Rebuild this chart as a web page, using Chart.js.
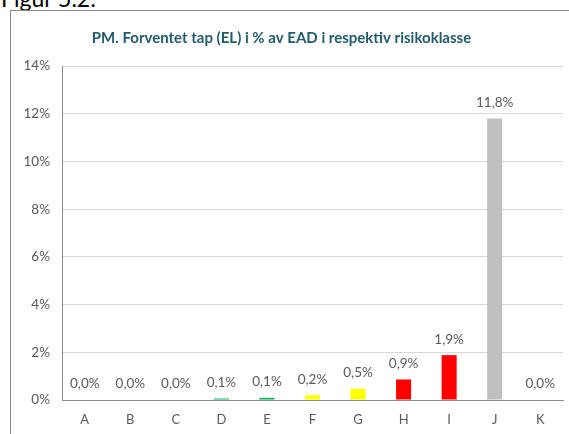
<!DOCTYPE html>
<html><head><meta charset="utf-8">
<script src="https://cdn.jsdelivr.net/npm/chart.js@4/dist/chart.umd.min.js"></script>
<style>
html,body{margin:0;padding:0;background:#fff;overflow:hidden;}
#wrap{position:relative;width:569px;height:434px;}
#fig{position:absolute;left:1px;top:-16px;font:23px Lato,"Open Sans",sans-serif;color:#000;}
#frame{position:absolute;left:10px;top:10px;width:620px;height:500px;border:1.5px solid #898989;box-sizing:border-box;}
canvas{position:absolute;left:0;top:0;}
</style></head>
<body><div id="wrap">
<div id="fig">Figur 5.2:</div>
<div id="frame"></div>
<canvas id="c" width="569" height="434"></canvas>
</div>
<script>
const categories = ["A","B","C","D","E","F","G","H","I","J","K"];
const values = [0.0, 0.0, 0.0, 0.06, 0.09, 0.2, 0.47, 0.86, 1.88, 11.8, 0.0];
const valueLabels = ["0,0%","0,0%","0,0%","0,1%","0,1%","0,2%","0,5%","0,9%","1,9%","11,8%","0,0%"];
const barColors = ["#00B050","#00B050","#00B050","#00B050","#00B050","#FFFF00","#FFFF00","#FF0000","#FF0000","#BFBFBF","#BFBFBF"];
const yTicks = [0,2,4,6,8,10,12,14];
const title = "PM. Forventet tap (EL) i % av EAD i respektiv risikoklasse";
const FONT = 'Lato, "Open Sans", sans-serif';

const labelPlugin = {
  id:'valLabels',
  afterDatasetsDraw(chart){
    const ctx = chart.ctx;
    const meta = chart.getDatasetMeta(0);
    ctx.save();
    ctx.font = '13.5px ' + FONT;
    ctx.fillStyle = '#595959';
    ctx.textAlign = 'center';
    ctx.textBaseline = 'middle';
    meta.data.forEach((el,i)=>{
      ctx.fillText(valueLabels[i], el.x, el.y - 16);
    });
    ctx.restore();
  }
};

new Chart(document.getElementById('c'), {
  type:'bar',
  data:{labels:categories, datasets:[{data:values, backgroundColor:barColors, borderWidth:0,
    barPercentage:0.33, categoryPercentage:1}]},
  options:{
    responsive:false, animation:false,
    layout:{padding:{left:0,right:6,top:0,bottom:0}},
    plugins:{legend:{display:false}, tooltip:{enabled:false},
      title:{display:true, text:title, color:'#215C6E',
        font:{family:FONT, size:15, weight:'bold', lineHeight:1.2},
        padding:{top:29,bottom:19}}},
    scales:{
      x:{grid:{display:false, drawTicks:false},
        border:{display:true,color:'#8C8C8C',width:1},
        ticks:{color:'#595959', padding:12, font:{family:FONT, size:13}},
        afterFit(s){s.height=34;}},
      y:{min:0,max:14,
        afterBuildTicks(s){s.ticks = yTicks.map(v=>({value:v}));},
        grid:{color:'#D9D9D9', drawTicks:false, lineWidth:1},
        border:{display:true,color:'#8C8C8C',width:1},
        ticks:{color:'#595959', padding:12, font:{family:FONT, size:13.5},
          callback:(v)=>v+'%'},
        afterFit(s){s.width=62;}}
    }
  },
  plugins:[labelPlugin]
});
</script>
</body></html>
